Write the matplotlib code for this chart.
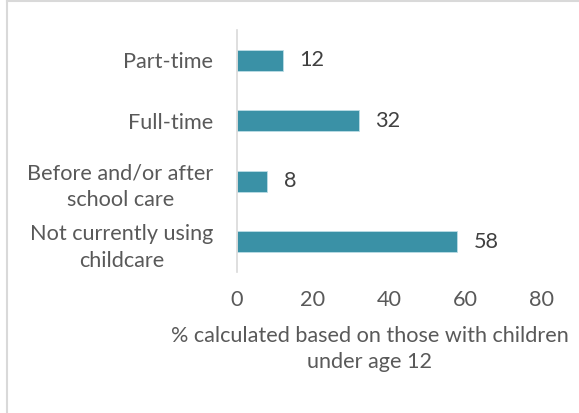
import matplotlib
matplotlib.use("Agg")
import matplotlib.pyplot as plt
from matplotlib.lines import Line2D

categories = ["Part-time", "Full-time", "Before and/or after\nschool care", "Not currently using\nchildcare"]
values = [12, 32, 8, 58]
xticks = [0, 20, 40, 60, 80]
xlabel = "% calculated based on those with children\nunder age 12"

plt.rcParams['font.family'] = ['Lato', 'DejaVu Sans']
txt = '#595959'
fs = 15.6

fig = plt.figure(figsize=(5.79, 4.13), dpi=100)
ax = fig.add_axes([237/579, 1 - 272/413, (541-237)/579, (272-30)/413])

ypos = list(range(len(categories)))
ax.barh(ypos, values, height=0.34, color='#3A91A6', edgecolor='#bcdde6', linewidth=0.6)
for y, v in zip(ypos, values):
    ax.text(v + 4.3, y, str(v), va='center', ha='left', fontsize=fs, color='#404040')

ax.set_ylim(3.5, -0.5)
ax.set_xlim(0, 80)
ax.set_yticks(ypos)
ax.set_yticklabels(categories, fontsize=fs, color=txt, linespacing=1.45, multialignment='center')
ax.set_xticks(xticks)
ax.set_xticklabels([str(t) for t in xticks], fontsize=fs, color=txt)
ax.tick_params(axis='both', length=0)
ax.tick_params(axis='x', pad=13)
ax.tick_params(axis='y', pad=17)
for s in ['top', 'right', 'bottom']:
    ax.spines[s].set_visible(False)
ax.spines['left'].set_color('#d9d9d9')
ax.spines['left'].set_linewidth(1.2)
ax.set_xlabel(xlabel, fontsize=fs, color=txt, linespacing=1.38)
ax.xaxis.set_label_coords((370 - 237) / 304, -(326 - 272) / 242, transform=ax.transAxes)
ax.xaxis.label.set_va('top')

# outer border (top and left)
fig.add_artist(Line2D([6.5/579, 6.5/579], [0, 1], transform=fig.transFigure, color='#d9d9d9', lw=1.5))
fig.add_artist(Line2D([6.5/579, 1], [1 - 1/413, 1 - 1/413], transform=fig.transFigure, color='#d9d9d9', lw=1.5))

fig.savefig("out.png", dpi=100)
